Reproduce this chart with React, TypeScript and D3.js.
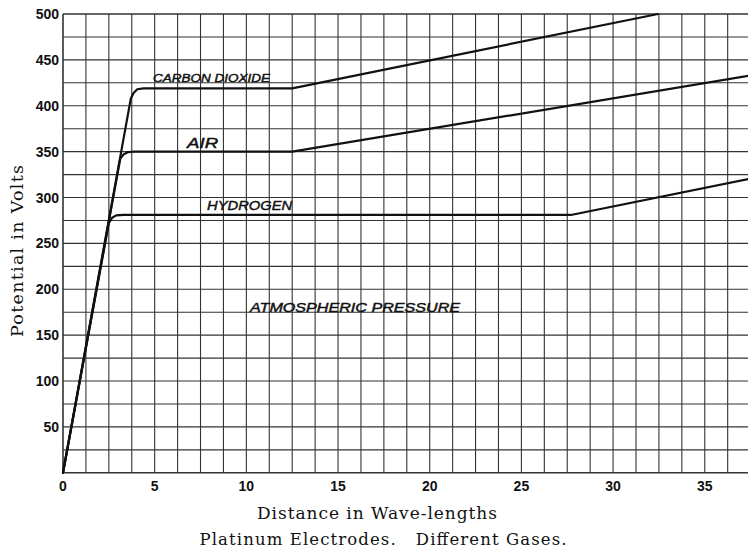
import React from "react";
import * as d3 from "d3";

// ---- data ----
const xTicks = [0, 5, 10, 15, 20, 25, 30, 35];
const yTicks = [50, 100, 150, 200, 250, 300, 350, 400, 450, 500];

const carbonDioxide: [number, number][] = [
  [0, 0], [3.7, 408], [3.85, 414], [4.05, 418], [4.4, 419], [12.5, 419], [32.45, 500],
];
const air: [number, number][] = [
  [0, 0], [3.12, 342], [3.3, 347], [3.55, 349.5], [3.9, 350], [12.5, 350], [37.5, 433],
];
const hydrogen: [number, number][] = [
  [0, 0], [2.5, 272], [2.68, 278], [2.9, 280.5], [3.3, 281], [27.7, 281], [37.5, 320.5],
];

const seriesNames = ["CARBON DIOXIDE", "AIR", "HYDROGEN"];
const annotationText = "ATMOSPHERIC PRESSURE";
const xTitle = "Distance in Wave-lengths";
const yTitle = "Potential in Volts";
const caption = "Platinum Electrodes.   Different Gases.";

// ---- layout ----
const W = 748;
const H = 549;
const cell = 22.92;
const left = 63;
const top = 14;
const bottom = 472.8;

export default function App() {
  const x = d3.scaleLinear().domain([0, 37.5]).range([left, left + 30 * cell]);
  const y = d3.scaleLinear().domain([0, 500]).range([bottom, top]);

  const xGrid = d3.range(0, 37.5 + 0.001, 1.25);
  const yGrid = d3.range(0, 500 + 0.001, 25);

  const line = d3
    .line<[number, number]>()
    .x((d) => x(d[0]))
    .y((d) => y(d[1]))
    .curve(d3.curveLinear);

  const series = [carbonDioxide, air, hydrogen];

  const labels = [
    { text: seriesNames[0], u: 4.91, v: 426, len: 117, size: 11.5 },
    { text: seriesNames[1], u: 6.77, v: 354, len: 31, size: 14 },
    { text: seriesNames[2], u: 7.86, v: 286.4, len: 85, size: 13.5 },
    { text: annotationText, u: 10.2, v: 175.2, len: 210, size: 13.5 },
  ];

  const gridColor = "#333";

  return (
    <svg
      width={W}
      height={H}
      viewBox={`0 0 ${W} ${H}`}
      style={{ position: "absolute", left: 0, top: 0, background: "#fff" }}
    >
      <rect x={0} y={0} width={W} height={H} fill="#fff" />
      <g>
        {xGrid.map((g, i) => (
          <line
            key={"vx" + i}
            x1={x(g)}
            x2={x(g)}
            y1={y(0)}
            y2={y(500)}
            stroke={gridColor}
            strokeWidth={i === 0 ? 1.6 : 1.1}
          />
        ))}
        {yGrid.map((g, i) => (
          <line
            key={"hy" + i}
            x1={x(0)}
            x2={x(37.5)}
            y1={y(g)}
            y2={y(g)}
            stroke={gridColor}
            strokeWidth={i === 0 || g === 500 ? 1.6 : 1.1}
          />
        ))}
      </g>
      <g fill="none" stroke="#111" strokeWidth={2.2} strokeLinejoin="round" strokeLinecap="round">
        {series.map((s, i) => (
          <path key={"s" + i} d={line(s) || ""} />
        ))}
      </g>
      <g
        fontFamily="'Liberation Sans', Arial, sans-serif"
        fontStyle="italic"
        fill="#111"
        stroke="#111"
        strokeWidth={0.45}
      >
        {labels.map((l, i) => (
          <text
            key={"l" + i}
            x={x(l.u)}
            y={y(l.v)}
            fontSize={l.size}
            textLength={l.len}
            lengthAdjust="spacingAndGlyphs"
          >
            {l.text}
          </text>
        ))}
      </g>
      <g
        fontFamily="'Liberation Sans Narrow', 'Liberation Sans', Arial, sans-serif"
        fontWeight="bold"
        fontSize={14}
        fill="#111"
      >
        {yTicks.map((t) => (
          <text key={"yt" + t} x={59} y={y(t)} dy="0.36em" textAnchor="end">
            {t}
          </text>
        ))}
        {xTicks.map((t) => (
          <text key={"xt" + t} x={x(t)} y={491} textAnchor="middle">
            {t}
          </text>
        ))}
      </g>
      <g fontFamily="'DejaVu Serif', 'Liberation Serif', serif" fill="#111">
        <text
          x={377}
          y={519}
          fontSize={17}
          textAnchor="middle"
          textLength={240}
          lengthAdjust="spacing"
        >
          {xTitle}
        </text>
        <text
          x={383}
          y={545}
          fontSize={16.5}
          textAnchor="middle"
          textLength={367}
          lengthAdjust="spacing"
          style={{ whiteSpace: "pre" }}
        >
          {caption}
        </text>
        <text
          transform={`translate(23, 251) rotate(-90)`}
          fontSize={17.5}
          textAnchor="middle"
          textLength={172}
          lengthAdjust="spacing"
        >
          {yTitle}
        </text>
      </g>
    </svg>
  );
}
